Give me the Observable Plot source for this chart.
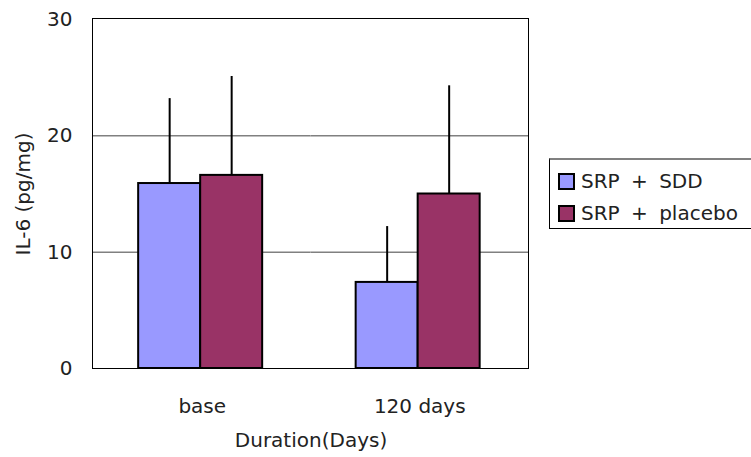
<!DOCTYPE html>
<html>
<head>
<meta charset="utf-8">
<script src="https://cdn.jsdelivr.net/npm/d3@7"></script>
<script src="https://cdn.jsdelivr.net/npm/@observablehq/plot@0.6"></script>
<style>
  html, body { margin: 0; padding: 0; background: #fff; overflow: hidden; }
  #wrap { position: relative; width: 751px; height: 457px; overflow: hidden; font-family: "DejaVu Sans", sans-serif; }
  #frame { position: absolute; left: 92px; top: 18px; width: 437px; height: 351px; box-sizing: border-box; border: 1px solid #000; pointer-events: none; }
  #legend { position: absolute; left: 549px; top: 158px; width: 215px; height: 71px; box-sizing: border-box; border: 1px solid #000; border-top: 2px solid #808080; background: #fff; }
  .item { position: absolute; left: 8px; height: 20px; display: flex; align-items: center; font-size: 20px; color: #222; white-space: nowrap; word-spacing: 5px; }
  .sw { width: 17px; height: 17px; box-sizing: border-box; border: 2px solid #000; margin-right: 6px; }
</style>
</head>
<body>
<div id="wrap">
  <div id="chart"></div>
  <div id="frame"></div>
  <div id="legend"></div>
</div>
<script>
const durations = ["base", "120 days"];
const seriesNames = ["SRP + SDD", "SRP + placebo"];
const colors = ["#9999FF", "#993366"];
const sddMean = [15.9, 7.4];
const placeboMean = [16.6, 15.0];
const sddUpper = [23.2, 12.2];
const placeboUpper = [25.1, 24.3];
const yTicks = [0, 10, 20, 30];
const gridValues = [10, 20];

const data = [];
durations.forEach((d, i) => {
  data.push({duration: d, series: seriesNames[0], value: sddMean[i], upper: sddUpper[i]});
  data.push({duration: d, series: seriesNames[1], value: placeboMean[i], upper: placeboUpper[i]});
});

const chart = Plot.plot({
  width: 751,
  height: 457,
  marginLeft: 93,
  marginRight: 223,
  marginTop: 19,
  marginBottom: 89,
  style: {fontSize: "20px", fontFamily: "DejaVu Sans, sans-serif", color: "#222", background: "transparent"},
  fx: {domain: durations, padding: 0, round: false, tickSize: 0, tickPadding: 30, label: "Duration(Days)", labelAnchor: "center", labelOffset: 78},
  x: {domain: seriesNames, paddingInner: 0, paddingOuter: 0.754, align: 0.483, round: false, axis: null},
  y: {domain: [0, 30], ticks: yTicks, tickSize: 0, tickPadding: 21, label: "IL-6 (pg/mg)", labelArrow: false, labelAnchor: "center", labelOffset: 78},
  color: {domain: seriesNames, range: colors},
  marks: [
    Plot.ruleY(gridValues, {stroke: "#808080", strokeWidth: 1.5}),
    Plot.ruleX(data, {fx: "duration", x: "series", y1: "value", y2: "upper", stroke: "#000", strokeWidth: 2}),
    Plot.barY(data, {fx: "duration", x: "series", y: "value", fill: "series", stroke: "#000", strokeWidth: 2})
  ]
});
document.getElementById("chart").appendChild(chart);

const legend = document.getElementById("legend");
seriesNames.forEach((s, i) => {
  const item = document.createElement("div");
  item.className = "item";
  item.style.top = (i === 0 ? 11 : 43) + "px";
  const sw = document.createElement("div");
  sw.className = "sw";
  sw.style.background = colors[i];
  item.appendChild(sw);
  const t = document.createElement("span");
  t.textContent = s;
  item.appendChild(t);
  legend.appendChild(item);
});
</script>
</body>
</html>
